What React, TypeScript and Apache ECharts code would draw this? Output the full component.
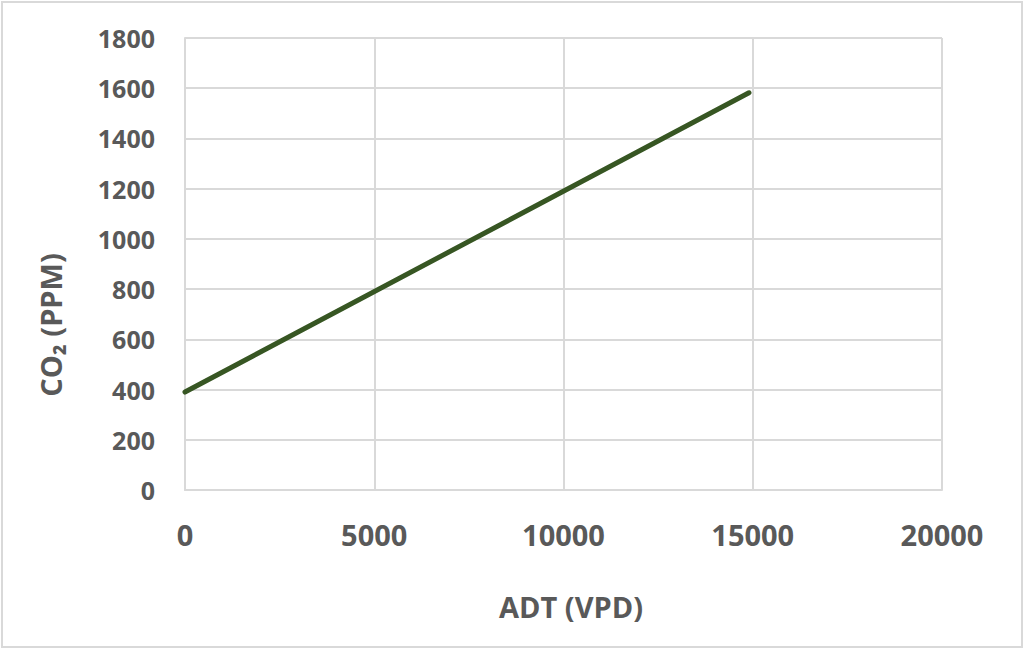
import React, { useEffect, useRef } from "react";
import * as echarts from "echarts";

const adtValues = [0, 14900];
const co2Values = [390, 1582];
const xTicks = { min: 0, max: 20000, interval: 5000 };
const yTicks = { min: 0, max: 1800, interval: 200 };
const xTitle = "ADT (VPD)";
const yTitle = "CO\u2082 (PPM)";

const TEXT = "#595959";
const GRID = "#d9d9d9";
const FONT = "'Open Sans', 'DejaVu Sans', sans-serif";

export default function App() {
  const ref = useRef<HTMLDivElement>(null);
  useEffect(() => {
    if (!ref.current) return;
    const chart = echarts.init(ref.current, undefined, { renderer: "svg" });
    const data = adtValues.map((x, i) => [x, co2Values[i]]);
    chart.setOption({
      animation: false,
      backgroundColor: "#ffffff",
      grid: { left: 185, right: 82, top: 38, bottom: 159, containLabel: false },
      xAxis: {
        type: "value",
        min: xTicks.min,
        max: xTicks.max,
        interval: xTicks.interval,
        axisLine: { show: true, lineStyle: { color: GRID, width: 2 } },
        axisTick: { show: false },
        splitLine: { show: true, lineStyle: { color: GRID, width: 2 } },
        axisLabel: {
          color: TEXT,
          fontFamily: FONT,
          fontWeight: "bold",
          fontSize: 29,
          margin: 30,
          formatter: (v: number) => String(v),
        },
      },
      yAxis: {
        type: "value",
        min: yTicks.min,
        max: yTicks.max,
        interval: yTicks.interval,
        axisLine: { show: true, lineStyle: { color: GRID, width: 2 } },
        axisTick: { show: false },
        splitLine: { show: true, lineStyle: { color: GRID, width: 2 } },
        axisLabel: {
          color: TEXT,
          fontFamily: FONT,
          fontWeight: "bold",
          fontSize: 25,
          margin: 30,
          formatter: (v: number) => String(v),
        },
      },
      graphic: [
        {
          type: "rect",
          shape: { x: 2, y: 2, width: 1020, height: 645 },
          style: { fill: "none", stroke: GRID, lineWidth: 2 },
          silent: true,
        },
        {
          type: "text",
          x: 571,
          y: 606,
          style: {
            text: xTitle,
            fill: TEXT,
            font: `bold 29px ${FONT}`,
            align: "center",
            verticalAlign: "middle",
          },
        },
        {
          type: "text",
          x: 50,
          y: 325,
          rotation: Math.PI / 2,
          style: {
            text: yTitle,
            fill: TEXT,
            font: `bold 29px ${FONT}`,
            align: "center",
            verticalAlign: "middle",
          },
        },
      ],
      series: [
        {
          type: "line",
          data,
          showSymbol: false,
          symbol: "none",
          lineStyle: { color: "#375623", width: 5, cap: "round" },
        },
      ],
    });
    return () => chart.dispose();
  }, []);
  return (
    <div
      ref={ref}
      style={{ position: "fixed", left: 0, top: 0, width: 1024, height: 649 }}
    />
  );
}
